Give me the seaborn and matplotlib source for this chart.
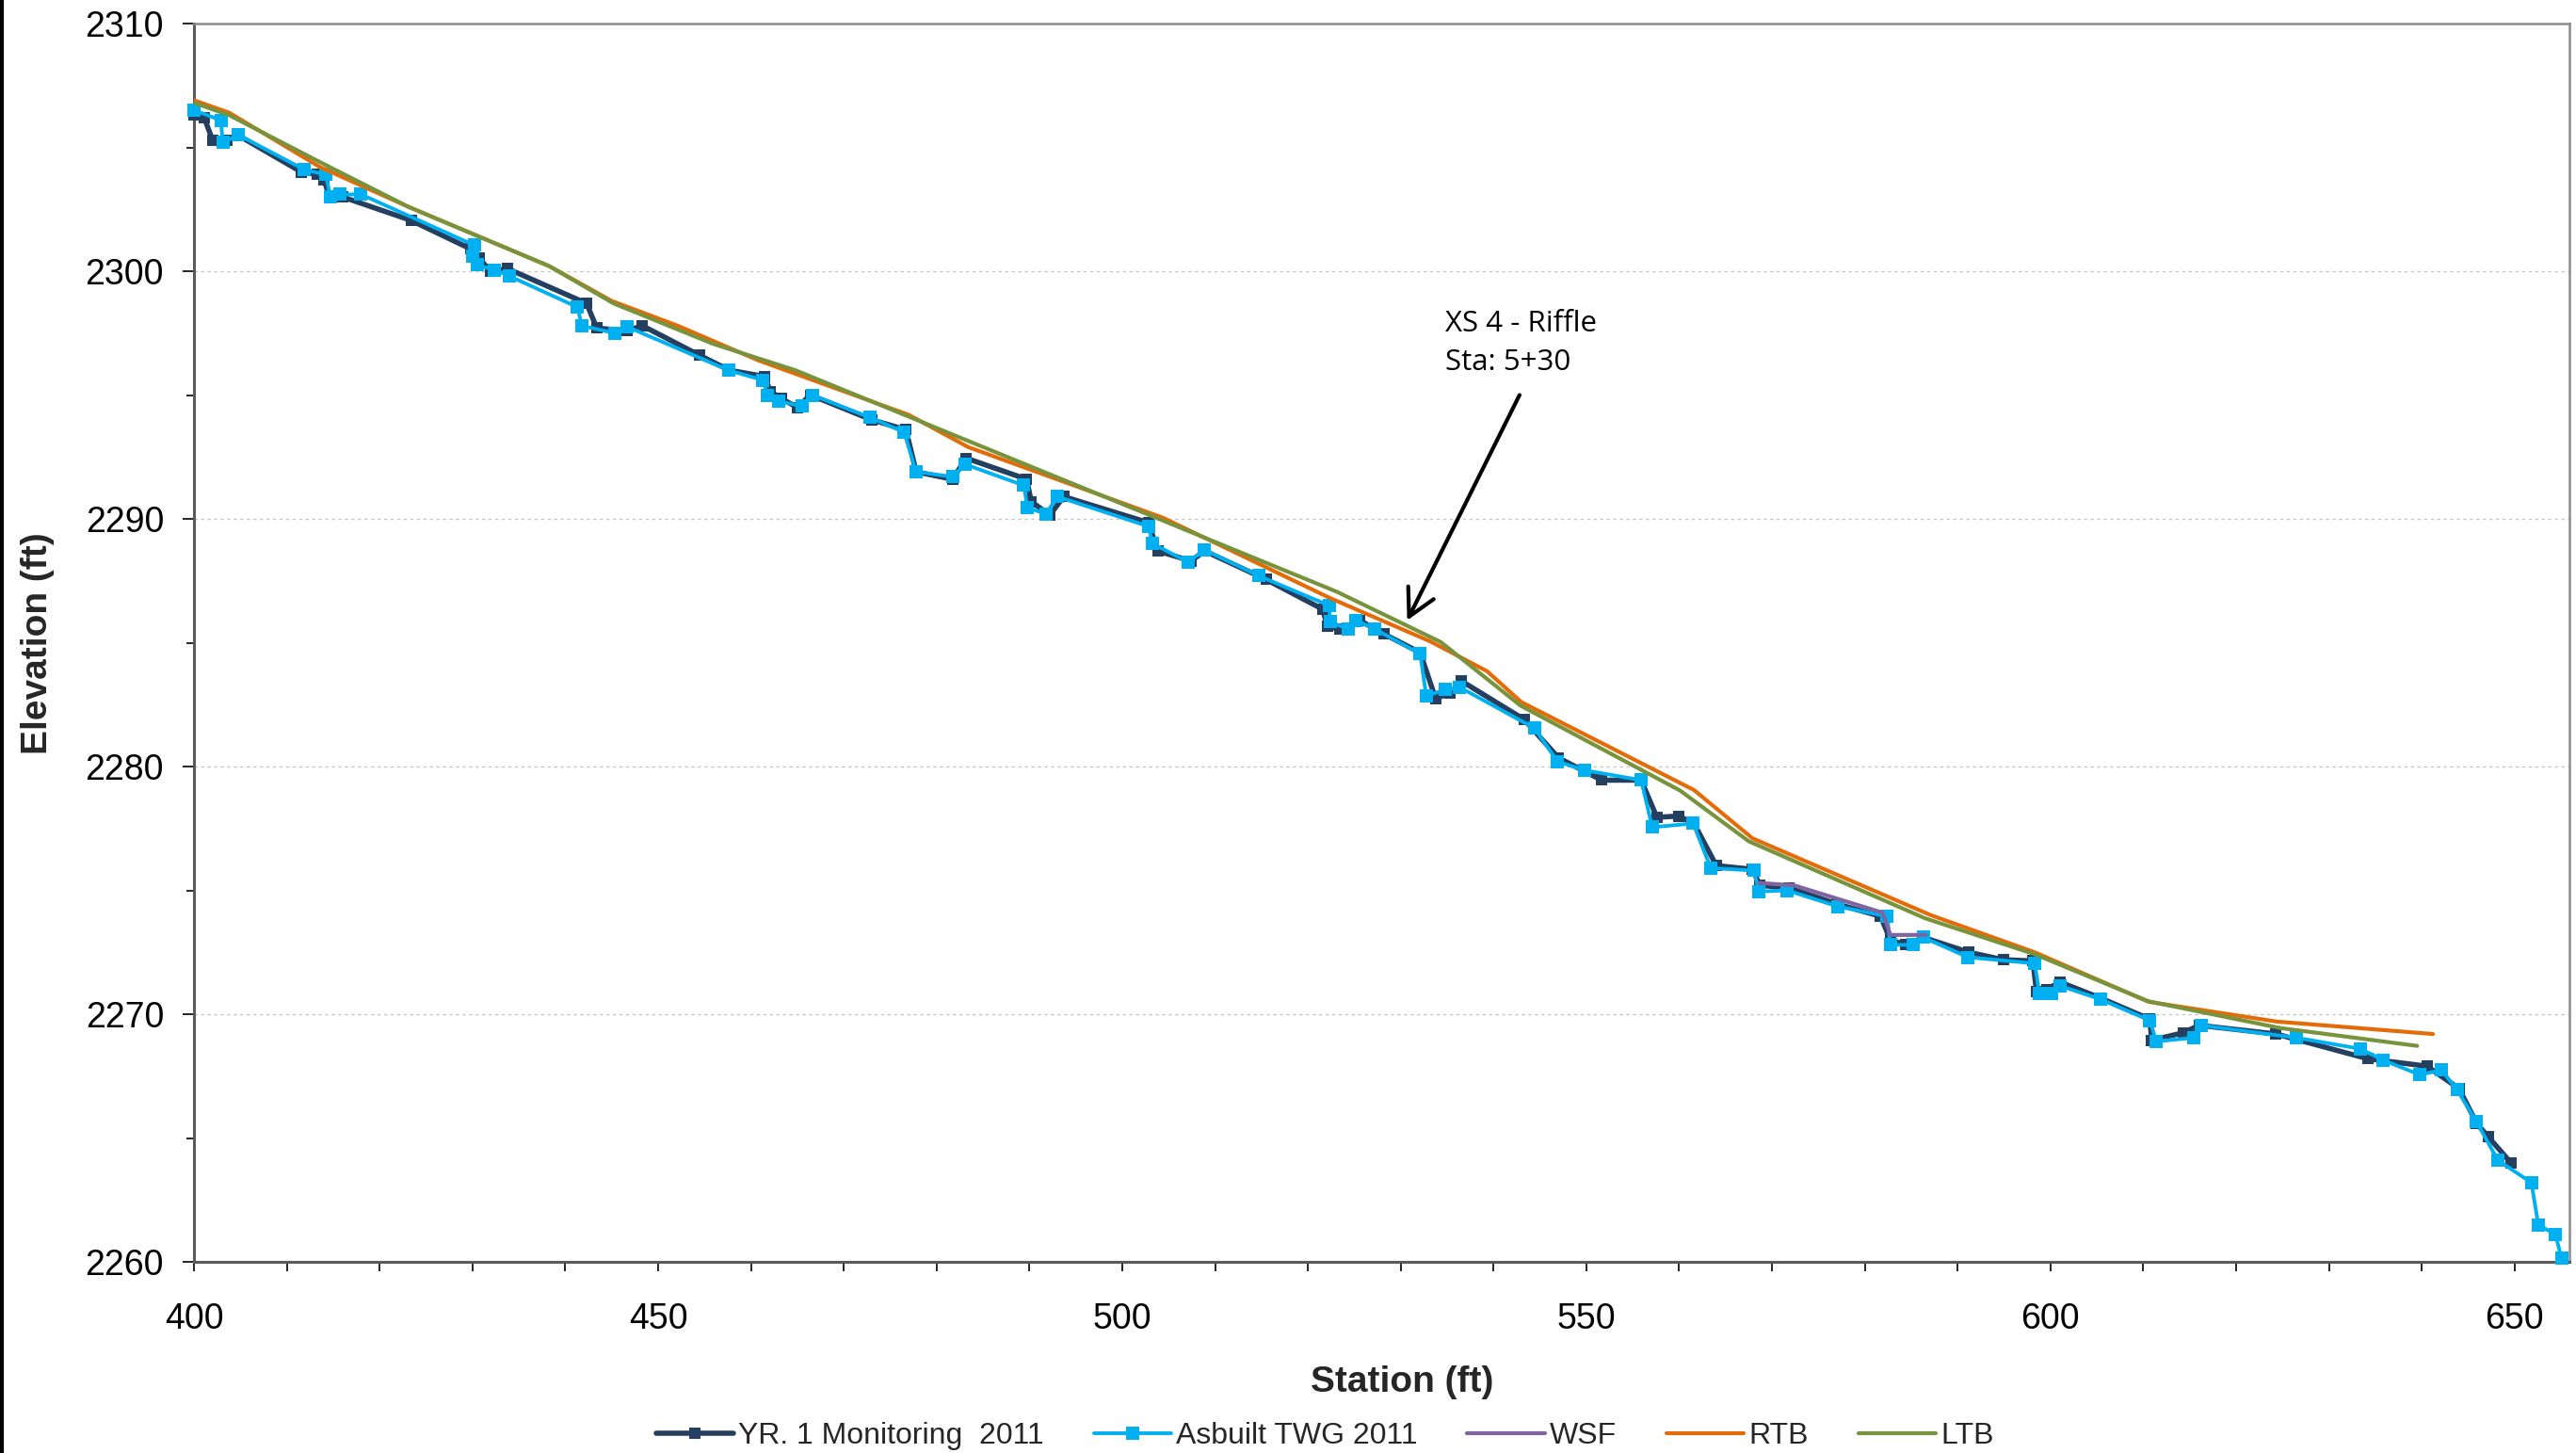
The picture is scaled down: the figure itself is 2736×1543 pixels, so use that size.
import matplotlib
matplotlib.use("Agg")
import matplotlib.pyplot as plt
import seaborn as sns
from matplotlib.ticker import MultipleLocator
from matplotlib.lines import Line2D

# ---------------- data (station ft, elevation ft) ----------------
yr1_station = [400.0, 401.1, 402.0, 403.6, 404.7, 411.6, 413.3, 414.0, 414.6, 416.0,
               423.4, 429.8, 430.7, 431.9, 433.8, 442.3, 443.4, 446.7, 448.3, 454.5,
               457.7, 461.45, 462.1, 463.3, 465.0, 466.4, 473.0, 476.7, 477.8, 481.7,
               483.2, 489.7, 490.2, 492.2, 493.7, 502.8, 503.85, 507.4, 508.9, 515.5,
               521.6, 522.1, 523.45, 525.6, 528.2, 532.1, 533.75, 535.3, 536.55, 543.3,
               547.0, 551.65, 555.9, 557.6, 559.95, 561.6, 564.0, 567.9, 568.7, 571.8,
               577.0, 581.7, 582.75, 584.4, 586.3, 591.2, 594.9, 598.1, 598.5, 599.6,
               601.0, 605.4, 610.7, 610.9, 614.3, 616.0, 624.3, 634.2, 640.55, 644.0,
               645.9, 647.15, 649.6]
yr1_elev = [2306.3, 2306.2, 2305.3, 2305.3, 2305.5, 2304.0, 2303.9, 2303.7, 2303.0, 2303.0,
            2302.05, 2300.9, 2300.55, 2300.0, 2300.1, 2298.7, 2297.7, 2297.6, 2297.8, 2296.6,
            2296.0, 2295.75, 2295.15, 2294.85, 2294.5, 2295.0, 2294.0, 2293.6, 2291.9, 2291.6,
            2292.45, 2291.6, 2290.7, 2290.15, 2290.9, 2289.85, 2288.7, 2288.3, 2288.7, 2287.55,
            2286.35, 2285.65, 2285.55, 2285.9, 2285.35, 2284.6, 2282.75, 2282.95, 2283.45, 2281.9,
            2280.35, 2279.45, 2279.45, 2277.95, 2278.0, 2277.7, 2276.0, 2275.85, 2275.2, 2275.1,
            2274.45, 2273.95, 2273.0, 2272.8, 2273.1, 2272.5, 2272.2, 2272.15, 2270.9, 2271.0,
            2271.3, 2270.65, 2269.8, 2268.95, 2269.25, 2269.55, 2269.2, 2268.2, 2267.9, 2267.0,
            2265.6, 2265.05, 2264.0]

asb_station = [400.0, 402.9, 403.1, 404.8, 411.9, 414.2, 414.7, 415.7, 418.0, 430.2,
               430.0, 430.5, 432.4, 434.0, 441.3, 441.8, 445.3, 446.7, 457.6, 461.3,
               461.8, 463.0, 465.5, 466.6, 472.8, 476.5, 477.8, 481.7, 483.1, 489.4,
               489.8, 491.8, 493.0, 502.8, 503.3, 507.1, 508.85, 514.7, 522.3, 522.4,
               524.3, 525.2, 527.2, 532.1, 532.75, 534.8, 536.35, 544.4, 546.9, 549.8,
               555.9, 557.1, 561.5, 563.4, 568.05, 568.6, 571.6, 577.1, 582.4, 582.75,
               585.2, 586.3, 591.1, 598.3, 598.8, 600.15, 601.0, 605.4, 610.7, 611.4,
               615.45, 616.2, 626.5, 633.4, 635.8, 639.8, 642.1, 643.8, 645.9, 648.2,
               651.8, 652.55, 654.4, 655.05]
asb_elev = [2306.5, 2306.1, 2305.2, 2305.5, 2304.1, 2303.9, 2303.0, 2303.1, 2303.1, 2301.05,
            2300.6, 2300.25, 2300.05, 2299.8, 2298.55, 2297.8, 2297.5, 2297.75, 2296.0, 2295.6,
            2295.0, 2294.75, 2294.55, 2295.0, 2294.1, 2293.5, 2291.9, 2291.7, 2292.2, 2291.35,
            2290.45, 2290.2, 2290.9, 2289.7, 2289.0, 2288.25, 2288.75, 2287.7, 2286.5, 2285.85,
            2285.55, 2285.9, 2285.55, 2284.55, 2282.85, 2283.1, 2283.2, 2281.55, 2280.2, 2279.85,
            2279.45, 2277.55, 2277.7, 2275.9, 2275.8, 2274.95, 2275.0, 2274.35, 2273.95, 2272.8,
            2272.8, 2273.1, 2272.3, 2272.05, 2270.85, 2270.85, 2271.15, 2270.6, 2269.75, 2268.9,
            2269.05, 2269.55, 2269.05, 2268.6, 2268.15, 2267.55, 2267.75, 2266.95, 2265.65, 2264.1,
            2263.2, 2261.5, 2261.1, 2260.15]

wsf_station = [568.6, 572.4, 581.9, 582.75, 586.6]
wsf_elev = [2275.3, 2275.2, 2274.1, 2273.2, 2273.2]

rtb_station = [400.0, 403.8, 413.6, 423.1, 438.3, 445.0, 452.1, 460.8, 477.0, 483.4,
               504.35, 522.4, 533.2, 539.3, 543.0, 561.6, 567.9, 587.1, 598.3, 610.56,
               624.4, 641.2]
rtb_elev = [2306.9, 2306.4, 2304.2, 2302.6, 2300.2, 2298.8, 2297.8, 2296.4, 2294.2, 2292.9,
            2290.05, 2286.8, 2285.05, 2283.85, 2282.6, 2279.05, 2277.1, 2274.0, 2272.5, 2270.5,
            2269.7, 2269.2]

ltb_station = [400.0, 403.8, 413.6, 423.1, 438.3, 445.2, 455.9, 464.8, 523.1, 534.3,
               542.9, 560.1, 567.5, 586.5, 598.3, 610.56, 624.75, 639.5]
ltb_elev = [2306.8, 2306.3, 2304.4, 2302.6, 2300.2, 2298.7, 2297.07, 2296.0, 2287.06, 2285.03,
            2282.46, 2279.03, 2276.98, 2273.87, 2272.42, 2270.52, 2269.44, 2268.72]

series_labels = ["YR. 1 Monitoring  2011", "Asbuilt TWG 2011", "WSF", "RTB", "LTB"]
x_label = "Station (ft)"
y_label = "Elevation (ft)"
annot_text = "XS 4 - Riffle\nSta: 5+30"
annot_tip = (530.7, 2285.9)
annot_tail = (542.8, 2295.0)

# ---------------- style ----------------
sns.set_style("ticks")
plt.rcParams["font.family"] = ["Liberation Sans", "DejaVu Sans"]

W, H = 2736, 1543
fig = plt.figure(figsize=(W / 100, H / 100), dpi=100)
ax_left, ax_right, ax_top, ax_bottom = 206, 2729, 25, 1340
ax = fig.add_axes([ax_left / W, 1 - ax_bottom / H, (ax_right - ax_left) / W, (ax_bottom - ax_top) / H])

c_yr1 = "#243F60"
c_asb = "#00B0F0"
c_wsf = "#8064A2"
c_rtb = "#E36C09"
c_ltb = "#77933C"

sns.lineplot(x=yr1_station, y=yr1_elev, sort=False, estimator=None, ax=ax,
             color=c_yr1, linewidth=4.0, marker="s", markersize=9,
             markeredgecolor=c_yr1, markeredgewidth=0, label=series_labels[0], zorder=3,
             clip_on=False)
sns.lineplot(x=asb_station, y=asb_elev, sort=False, estimator=None, ax=ax,
             color=c_asb, linewidth=2.8, marker="s", markersize=9.5,
             markeredgecolor=c_asb, markeredgewidth=0, label=series_labels[1], zorder=4,
             clip_on=False)
sns.lineplot(x=wsf_station, y=wsf_elev, sort=False, estimator=None, ax=ax,
             color=c_wsf, linewidth=3.0, label=series_labels[2], zorder=5)
sns.lineplot(x=rtb_station, y=rtb_elev, sort=False, estimator=None, ax=ax,
             color=c_rtb, linewidth=3.0, label=series_labels[3], zorder=5)
sns.lineplot(x=ltb_station, y=ltb_elev, sort=False, estimator=None, ax=ax,
             color=c_ltb, linewidth=3.0, label=series_labels[4], zorder=6)

ax.set_xlim(400, 655.9)
ax.set_ylim(2260, 2310)
ax.xaxis.set_major_locator(MultipleLocator(50))
ax.xaxis.set_minor_locator(MultipleLocator(10))
ax.yaxis.set_major_locator(MultipleLocator(10))
ax.yaxis.set_minor_locator(MultipleLocator(5))

ax.yaxis.grid(True, which="major", linestyle=(0, (2.5, 2.5)), color="#C8C8C8", linewidth=1.0)
ax.xaxis.grid(False)
ax.set_axisbelow(True)

ax.tick_params(axis="y", which="major", length=9, width=1.2, direction="out",
               labelsize=27, pad=14, colors="black")
ax.tick_params(axis="y", which="minor", length=6, width=1.2, direction="out", colors="black")
ax.tick_params(axis="x", which="both", length=7, width=1.2, direction="out",
               labelsize=27, pad=24, colors="black")

for side in ["left", "bottom"]:
    ax.spines[side].set_color("#5A5A5A")
    ax.spines[side].set_linewidth(2.2)
for side in ["top", "right"]:
    ax.spines[side].set_color("#8C8C8C")
    ax.spines[side].set_linewidth(1.8)
    ax.spines[side].set_visible(True)

ax.set_xlabel("")
ax.set_ylabel("")
fig.text(1489 / W, 1 - 1468 / H, x_label, fontsize=28, fontweight="bold",
         ha="center", va="center")
fig.text(40 / W, 1 - 683 / H, y_label, fontsize=28, fontweight="bold",
         ha="center", va="center", rotation=90)

# annotation
ax.annotate("", xy=annot_tip, xytext=annot_tail,
            arrowprops=dict(arrowstyle="->,head_length=0.6,head_width=0.32",
                            lw=3, color="black", mutation_scale=34,
                            shrinkA=0, shrinkB=0), zorder=8)
ax.text(534.8, 2298.45, annot_text, fontsize=22.5, family=["Open Sans", "DejaVu Sans"],
        ha="left", va="top", linespacing=1.5, color="black", zorder=8)

# legend
handles, labels = ax.get_legend_handles_labels()
if ax.get_legend() is not None:
    ax.get_legend().remove()
fig.legend(handles, labels, loc="center", bbox_to_anchor=(0.5143, 0.0117), ncol=5,
           frameon=False, fontsize=23, handlelength=2.57, handletextpad=0.17,
           columnspacing=1.65, borderpad=0.2)

# dark edge at left of the picture
fig.add_artist(Line2D([2 / W, 2 / W], [0, 1], color="black", lw=3, transform=fig.transFigure))

fig.savefig("out.png", dpi=100)
